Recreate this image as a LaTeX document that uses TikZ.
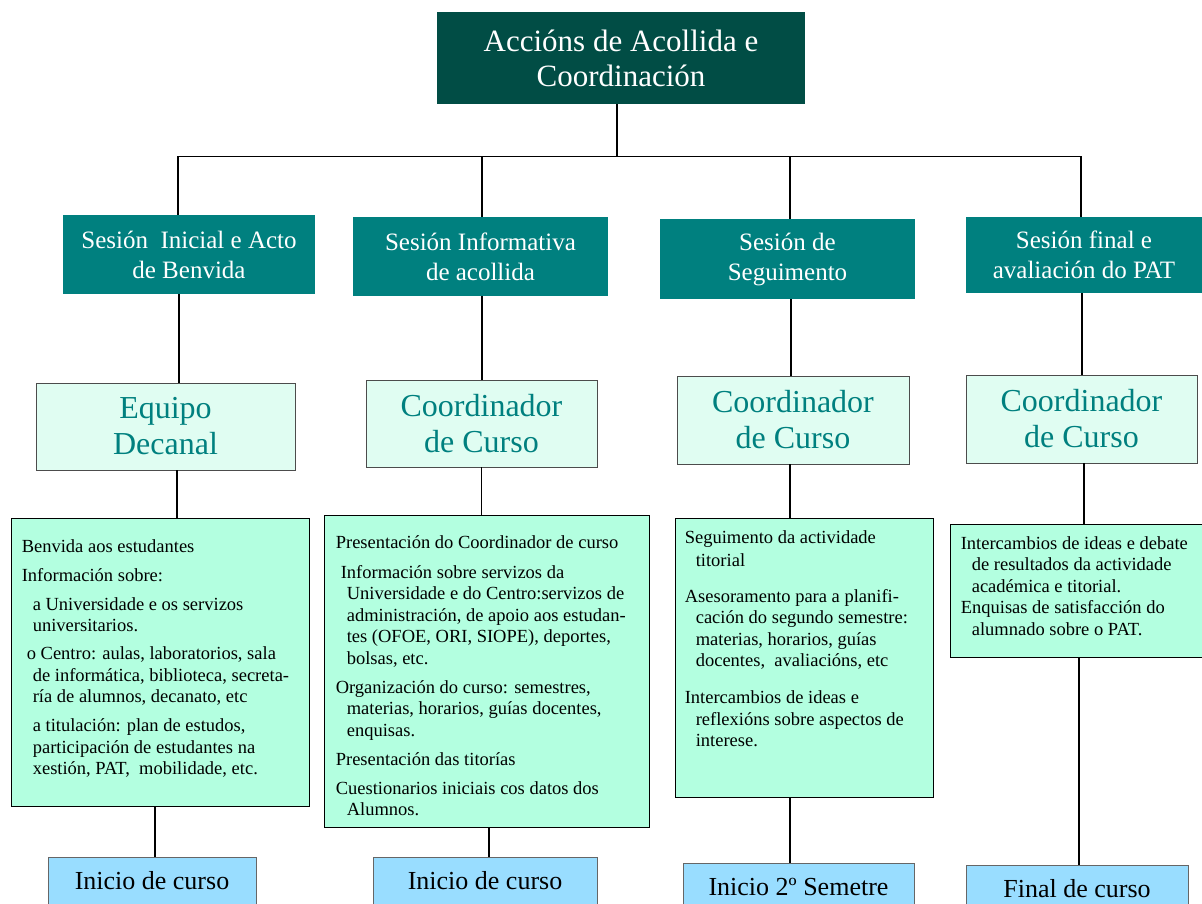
\documentclass[tikz,border=0pt]{standalone}
\usepackage{fontspec}
\setmainfont{Liberation Serif}

\definecolor{acc}{HTML}{014D45}
\definecolor{ses}{HTML}{00807F}
\definecolor{coord}{HTML}{E0FDF2}
\definecolor{lst}{HTML}{B3FFE0}
\definecolor{fin}{HTML}{99DDFF}

\newcommand{\ind}{\hspace*{11pt}}

\begin{document}
\begin{tikzpicture}[x=1pt,y=-1pt,
  accbox/.style={fill=acc,text=white,inner sep=0pt,align=center,font=\fontsize{31}{35}\selectfont},
  sesbox/.style={fill=ses,text=white,inner sep=0pt,align=center,font=\fontsize{25}{30}\selectfont},
  coordbox/.style={fill=coord,draw=black!70,line width=0.8pt,text=ses,inner sep=0pt,align=center,font=\fontsize{32}{36}\selectfont},
  listbox/.style={fill=lst,draw=black,line width=0.8pt,inner sep=0pt},
  listtext/.style={anchor=north west,inner sep=0pt,align=left,font=\fontsize{18.5}{21.5}\selectfont},
  finbox/.style={fill=fin,draw=black!60,line width=0.8pt,inner sep=0pt,font=\fontsize{26}{30}\selectfont},
  link/.style={line width=1.3pt}]

  \useasboundingbox (0,0) rectangle (1202,903);

  % top box
  \node[accbox,minimum width=368pt,minimum height=92pt] (top) at (621,58) {Accións de Acollida e\\Coordinación};

  % sessions
  \node[sesbox,minimum width=252pt,minimum height=79pt] (s1) at (189,254.5) {Sesión\ \ Inicial e Acto\\de Benvida};
  \node[sesbox,minimum width=255pt,minimum height=79pt] (s2) at (480.5,256.5) {Sesión Informativa\\de acollida};
  \node[sesbox,minimum width=255pt,minimum height=80pt] (s3) at (787.5,259) {Sesión de\\Seguimento};
  \node[sesbox,minimum width=236pt,minimum height=76pt] (s4) at (1084,255) {Sesión final e\\avaliación do PAT};

  % who is in charge
  \node[coordbox,minimum width=259pt,minimum height=87pt] (c1) at (165.5,426.5) {Equipo\\Decanal};
  \node[coordbox,minimum width=231pt,minimum height=87pt] (c2) at (481.5,423.5) {Coordinador\\de Curso};
  \node[coordbox,minimum width=232pt,minimum height=88pt] (c3) at (793,420) {Coordinador\\de Curso};
  \node[coordbox,minimum width=231pt,minimum height=88pt] (c4) at (1081.5,419) {Coordinador\\de Curso};

  % contents
  \node[listbox,minimum width=298pt,minimum height=288pt] (d1) at (160,662) {};
  \node[listbox,minimum width=325pt,minimum height=312pt] (d2) at (486.5,671) {};
  \node[listbox,minimum width=258pt,minimum height=279pt] (d3) at (804,657.5) {};
  \node[listbox,minimum width=252pt,minimum height=133pt] (d4) at (1076,590.5) {};

  \node[listtext] (t1) at ([xshift=11pt,yshift=-21.4pt]d1.north west) {%
    Benvida aos estudantes\\[7.5pt]
    Información sobre:\\[7.5pt]
    \ind a Universidade e os servizos\\
    \ind universitarios.\\[6.5pt]
    \hspace*{5pt}o Centro: aulas, laboratorios, sala\\
    \ind de informática, biblioteca, secreta-\\
    \ind ría de alumnos, decanato, etc\\[7.5pt]
    \ind a titulación: plan de estudos,\\
    \ind participación de estudantes na\\
    \ind xestión, PAT,\ \ mobilidade, etc.};
  \node[listtext] (t2) at ([xshift=12pt,yshift=-20.4pt]d2.north west) {%
    Presentación do Coordinador de curso\\[8.5pt]
    \hspace*{5pt}Información sobre servizos da\\
    \ind Universidade e do Centro:servizos de\\
    \ind administración, de apoio aos estudan-\\
    \ind tes (OFOE, ORI, SIOPE), deportes,\\
    \ind bolsas, etc.\\[7.5pt]
    Organización do curso: semestres,\\
    \ind materias, horarios, guías docentes,\\
    \ind enquisas.\\[7.5pt]
    Presentación das titorías\\[7.5pt]
    Cuestionarios iniciais cos datos dos\\
    \ind Alumnos.};
  \node[listtext] (t3) at ([xshift=10pt,yshift=-12.4pt]d3.north west) {%
    Seguimento da actividade\\[1.5pt]
    \ind titorial\\[14.5pt]
    Asesoramento para a planifi-\\
    \ind cación do segundo semestre:\\
    \ind materias, horarios, guías\\
    \ind docentes,\ \ avaliacións, etc\\[15.5pt]
    Intercambios de ideas e\\
    \ind reflexións sobre aspectos de\\
    \ind interese.};
  \node[listtext] (t4) at ([xshift=11pt,yshift=-12.4pt]d4.north west) {%
    Intercambios de ideas e debate\\
    \ind de resultados da actividade\\
    \ind académica e titorial.\\
    Enquisas de satisfacción do\\
    \ind alumnado sobre o PAT.};

  % when
  \node[finbox,minimum width=208pt,minimum height=48pt] (b1) at (152,881) {Inicio de curso};
  \node[finbox,minimum width=224pt,minimum height=48pt] (b2) at (485,881) {Inicio de curso};
  \node[finbox,minimum width=231pt,minimum height=48pt] (b3) at (798.5,887) {Inicio 2º Semetre};
  \node[finbox,minimum width=222pt,minimum height=48pt] (b4) at (1077,889) {Final de curso};

  % connectors down each column
  \foreach \n/\ua/\ub/\uc/\ud in {1/-11/-10/11.5/3, 2/1.5/1.5/0/4, 3/2.5/3.5/-3/-8.5, 4/-3/-2/2.5/2} {
    \coordinate (up\n) at ([xshift=\ua pt]s\n.north);
    \coordinate (sd\n) at ([xshift=\ub pt]s\n.south);
    \coordinate (cd\n) at ([xshift=\uc pt]c\n.south);
    \coordinate (bu\n) at ([xshift=\ud pt]b\n.north);
    \draw[link] (sd\n) -- (sd\n |- c\n.north);
    \draw[link] (cd\n) -- (cd\n |- d\n.north);
    \draw[link] (bu\n) -- (bu\n |- d\n.south);
  };

  % bus from the top box
  \coordinate (tb) at ([xshift=-4pt]top.south);
  \coordinate (bus) at ([yshift=-52pt]tb);
  \draw[link] (tb) -- (bus);
  \draw[link] (up1 |- bus) -- (up4 |- bus);
  \foreach \n in {1,...,4} {
    \draw[link] (up\n) -- (up\n |- bus);
  };

\end{tikzpicture}
\end{document}
